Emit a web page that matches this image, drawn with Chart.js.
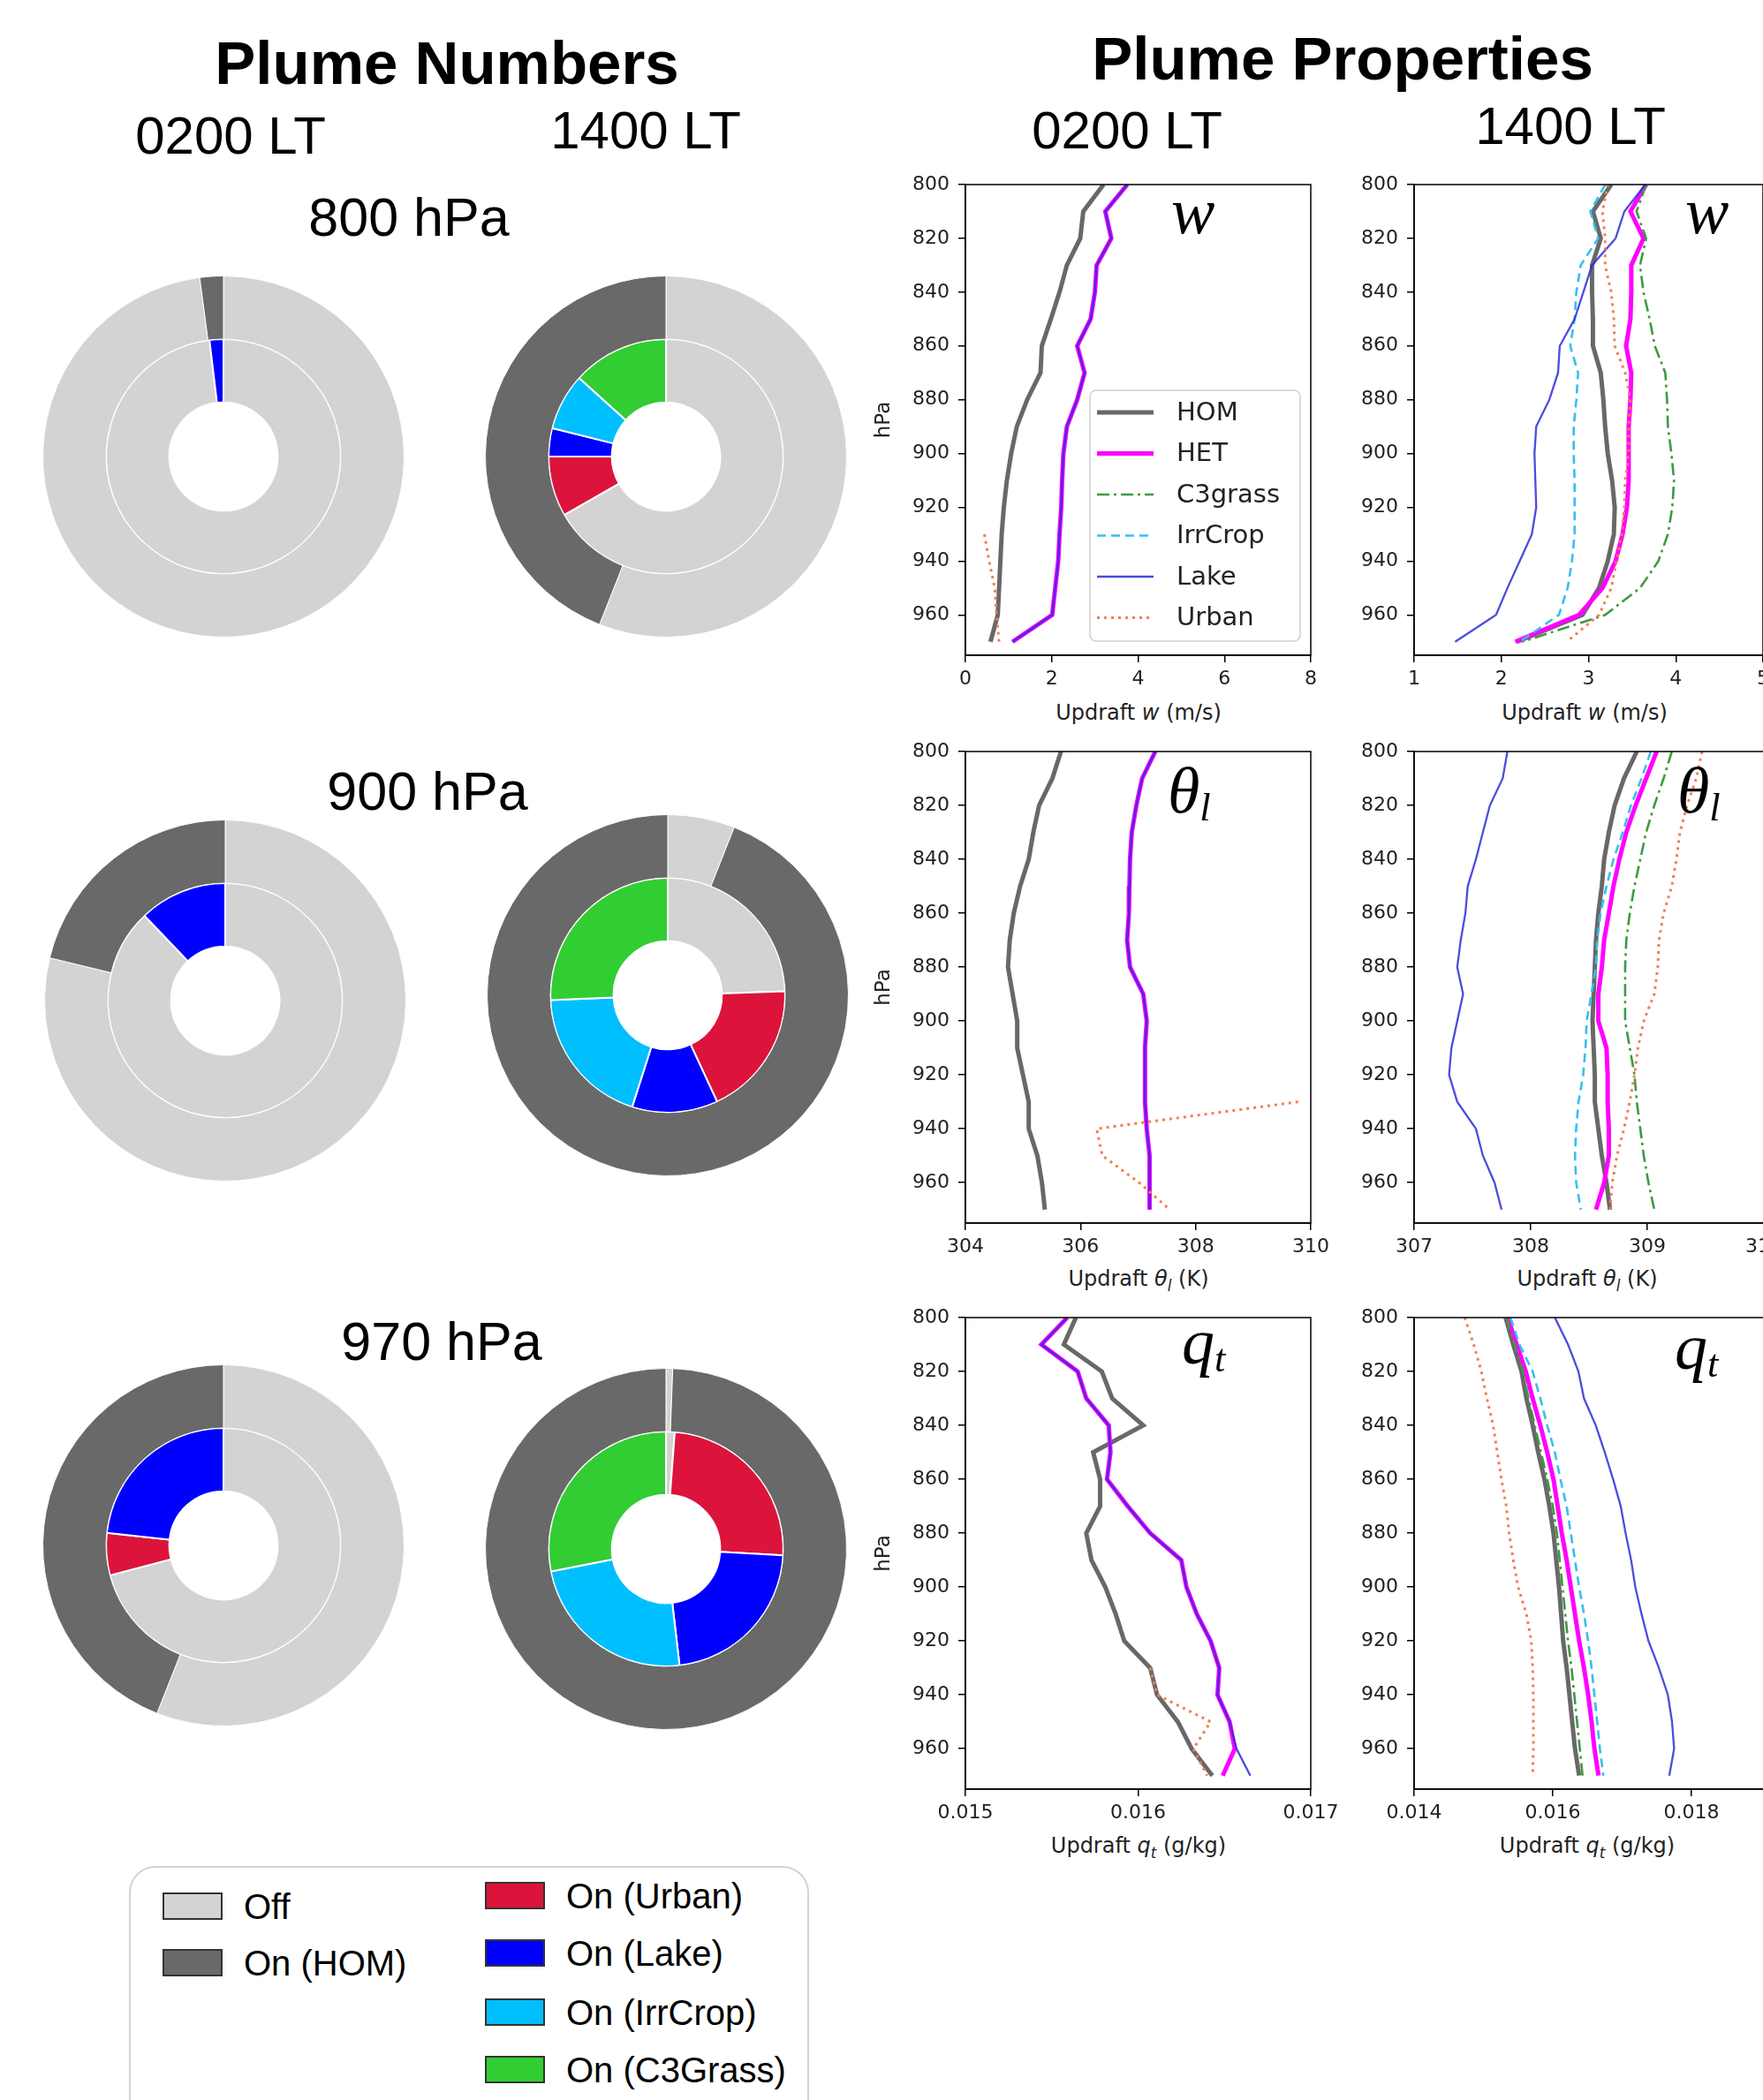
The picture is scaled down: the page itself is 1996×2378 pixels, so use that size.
<!DOCTYPE html>
<html>
<head>
<meta charset="utf-8">
<script src="https://cdn.jsdelivr.net/npm/chart.js@4.4.0/dist/chart.umd.min.js"></script>
<style>
body{margin:0;width:1996px;height:2378px;overflow:hidden;background:#fff;position:relative;font-family:"Liberation Sans",Arial,sans-serif;}
canvas{position:absolute;}
.t{position:absolute;white-space:nowrap;line-height:1;color:#000;}
.ax{position:absolute;white-space:nowrap;line-height:1;color:#222;font-family:"DejaVu Sans",sans-serif;font-size:24px;transform:translateX(-50%);}
.ann{position:absolute;white-space:nowrap;line-height:1;color:#000;font-family:"Liberation Serif",serif;font-style:italic;font-size:74px;}
.ann sub{font-size:0.6em;vertical-align:-0.2em;}
.ax sub{font-size:0.7em;}
#legend{position:absolute;left:146px;top:2113px;width:766px;height:300px;border:2px solid #d2d2d2;border-radius:30px;}
.sw{position:absolute;width:64px;height:27px;border:2px solid #333;}
</style>
</head>
<body>
<div id="legend"></div>

<canvas id="d1" width="410" height="410"></canvas>
<canvas id="d2" width="410" height="410"></canvas>
<canvas id="d3" width="410" height="410"></canvas>
<canvas id="d4" width="410" height="410"></canvas>
<canvas id="d5" width="410" height="410"></canvas>
<canvas id="d6" width="410" height="410"></canvas>

<canvas id="pA"></canvas>
<canvas id="pB"></canvas>
<canvas id="pC"></canvas>
<canvas id="pD"></canvas>
<canvas id="pE"></canvas>
<canvas id="pF"></canvas>

<script>
// ---- plume numbers (fractions), outer ring = [Off, On(HOM)], inner = [Off, Urban, Lake, IrrCrop, C3Grass]
var ringOuterLabels = ['Off', 'On (HOM)'];
var ringInnerLabels = ['Off', 'On (Urban)', 'On (Lake)', 'On (IrrCrop)', 'On (C3Grass)'];

var outer800Night = [0.979, 0.021];
var inner800Night = [0.981, 0, 0.019, 0, 0];
var outer800Day   = [0.56, 0.44];
var inner800Day   = [0.667, 0.083, 0.039, 0.078, 0.133];
var outer900Night = [0.788, 0.212];
var inner900Night = [0.879, 0, 0.121, 0, 0];
var outer900Day   = [0.06, 0.94];
var inner900Day   = [0.244, 0.186, 0.118, 0.194, 0.256];
var outer970Night = [0.56, 0.44];
var inner970Night = [0.709, 0.058, 0.233, 0, 0];
var outer970Day   = [0.006, 0.994];
var inner970Day   = [0.012, 0.247, 0.223, 0.238, 0.281];

// ---- plume properties, pressure levels (hPa)
var levels = [800,810,820,830,840,850,860,870,880,890,900,910,920,930,940,950,960,970];
var yTicks = [800,820,840,860,880,900,920,940,960];

var wNightHom   = [3.2,2.73,2.66,2.35,2.18,1.98,1.77,1.74,1.43,1.19,1.06,0.96,0.89,0.84,0.81,0.78,0.75,0.58];
var wNightHet   = [3.75,3.24,3.38,3.04,3.00,2.90,2.59,2.76,2.59,2.35,2.27,2.24,2.22,2.18,2.15,2.08,2.01,1.09];
var wNightLake  = [3.75,3.24,3.38,3.04,3.00,2.90,2.59,2.76,2.59,2.35,2.27,2.24,2.22,2.18,2.15,2.08,2.01,1.09];
var wNightUrban = [null,null,null,null,null,null,null,null,null,null,null,null,null,0.44,0.55,0.68,0.72,0.78];

var wDayHom   = [3.26,3.05,3.14,3.04,3.04,3.05,3.05,3.14,3.17,3.19,3.22,3.27,3.30,3.29,3.22,3.12,2.93,2.18];
var wDayHet   = [3.66,3.48,3.63,3.49,3.49,3.48,3.43,3.49,3.48,3.46,3.46,3.46,3.44,3.39,3.31,3.16,2.89,2.16];
var wDayC3    = [3.66,3.55,3.66,3.59,3.63,3.70,3.76,3.88,3.90,3.91,3.95,3.98,3.96,3.91,3.80,3.59,3.19,2.24];
var wDayIrr   = [3.19,3.02,3.11,2.91,2.86,2.84,2.79,2.88,2.86,2.83,2.83,2.84,2.84,2.84,2.81,2.76,2.66,2.21];
var wDayLake  = [3.65,3.41,3.31,3.04,2.94,2.84,2.67,2.65,2.55,2.40,2.38,2.39,2.40,2.35,2.21,2.07,1.94,1.47];
var wDayUrban = [3.22,3.16,3.19,3.19,3.26,3.29,3.30,3.42,3.48,3.46,3.46,3.42,3.41,3.38,3.32,3.26,3.12,2.75];

var thNightHom   = [305.66,305.51,305.28,305.18,305.10,304.95,304.84,304.77,304.74,304.82,304.90,304.90,305.00,305.10,305.10,305.25,305.33,305.38];
var thNightHet   = [307.30,307.07,306.97,306.89,306.86,306.85,306.84,306.81,306.86,307.09,307.15,307.12,307.12,307.12,307.15,307.20,307.20,307.20];
var thNightLake  = [307.30,307.07,306.97,306.89,306.86,306.85,306.84,306.81,306.86,307.09,307.15,307.12,307.12,307.12,307.15,307.20,307.20,307.20];
var thNightUrban = [null,null,null,null,null,null,null,null,null,null,null,null,null,309.78,306.28,306.38,307.02,307.55];

var thDayHom   = [308.91,308.80,308.72,308.67,308.63,308.61,308.58,308.56,308.55,308.54,308.53,308.54,308.55,308.55,308.58,308.61,308.65,308.68];
var thDayHet   = [309.08,308.99,308.90,308.82,308.76,308.71,308.67,308.63,308.61,308.58,308.58,308.65,308.66,308.66,308.67,308.67,308.63,308.56];
var thDayC3    = [309.21,309.14,309.06,308.99,308.94,308.89,308.85,308.82,308.81,308.81,308.81,308.85,308.89,308.91,308.94,308.97,309.01,309.06];
var thDayIrr   = [309.03,308.95,308.86,308.79,308.71,308.65,308.60,308.57,308.56,308.52,308.48,308.47,308.45,308.41,308.39,308.38,308.39,308.43];
var thDayLake  = [307.80,307.76,307.65,307.59,307.53,307.46,307.44,307.40,307.37,307.42,307.37,307.32,307.30,307.37,307.53,307.59,307.69,307.75];
var thDayUrban = [309.47,309.42,309.34,309.28,309.25,309.21,309.14,309.10,309.09,309.06,308.97,308.92,308.89,308.85,308.80,308.74,308.70,308.68];

var qtNightHom   = [0.01564,0.01557,0.01579,0.01585,0.01603,0.01574,0.01578,0.01578,0.01570,0.01573,0.01581,0.01587,0.01592,0.01607,0.01611,0.01623,0.01631,0.01643];
var qtNightHet   = [0.01559,0.01544,0.01565,0.01570,0.01583,0.01584,0.01582,0.01594,0.01607,0.01625,0.01628,0.01634,0.01642,0.01647,0.01646,0.01653,0.01656,0.01649];
var qtNightLake  = [0.01559,0.01544,0.01565,0.01570,0.01583,0.01584,0.01582,0.01594,0.01607,0.01625,0.01628,0.01634,0.01642,0.01647,0.01646,0.01653,0.01657,0.01665];
var qtNightUrban = [null,null,null,null,null,null,null,null,null,null,null,null,null,0.01607,0.01611,0.01642,0.01632,0.01640];

var qtDayHom   = [0.01532,0.01543,0.01555,0.01562,0.01571,0.01579,0.01588,0.01595,0.01601,0.01605,0.01609,0.01612,0.01615,0.01620,0.01624,0.01628,0.01632,0.01638];
var qtDayHet   = [0.01535,0.01548,0.01561,0.01571,0.01582,0.01592,0.01601,0.01607,0.01613,0.01620,0.01626,0.01632,0.01638,0.01645,0.01651,0.01656,0.01660,0.01666];
var qtDayC3    = [0.01533,0.01545,0.01557,0.01565,0.01574,0.01583,0.01592,0.01600,0.01606,0.01610,0.01614,0.01618,0.01622,0.01627,0.01631,0.01635,0.01639,0.01643];
var qtDayIrr   = [0.01539,0.01552,0.01571,0.01582,0.01592,0.01603,0.01611,0.01620,0.01626,0.01632,0.01638,0.01645,0.01651,0.01656,0.01660,0.01664,0.01668,0.01673];
var qtDayLake  = [0.01603,0.01622,0.01637,0.01645,0.01662,0.01675,0.01687,0.01698,0.01705,0.01713,0.01719,0.01728,0.01738,0.01753,0.01766,0.01772,0.01775,0.01768];
var qtDayUrban = [0.01473,0.01486,0.01497,0.01505,0.01514,0.01520,0.01526,0.01533,0.01537,0.01543,0.01550,0.01562,0.01569,0.01571,0.01572,0.01572,0.01572,0.01571];

var wTicksNight = [0,2,4,6,8];
var wTicksDay = [1,2,3,4,5];
var thTicksNight = [304,306,308,310];
var thTicksDay = [307,308,309,310];
var qtTicksNight = [0.015,0.016,0.017];
var qtTicksDay = [0.014,0.016,0.018,0.020];

// ---- colours / styles
var offColor = '#d3d3d3', homColor = '#696969', urbanColor = '#dc143c',
    lakeColor = '#0000ff', irrColor = '#00bfff', c3Color = '#32cd32';

var seriesNames = ['HOM','HET','C3grass','IrrCrop','Lake','Urban'];
var lineStyle = {
  HOM:     {color:'#686868', width:5, dash:[]},
  HET:     {color:'#ff00ff', width:5, dash:[]},
  C3grass: {color:'#3f9a3f', width:2.6, dash:[14,5,3,5]},
  IrrCrop: {color:'#35c0ee', width:2.6, dash:[10,6]},
  Lake:    {color:'rgba(45,45,215,0.85)', width:2.3, dash:[]},
  Urban:   {color:'#f47e52', width:3, dash:[3,5]}
};

Chart.defaults.font.family = 'DejaVu Sans';
Chart.defaults.color = '#222';

function place(html, left, top, cls, style){
  var d = document.createElement('div');
  d.className = cls;
  d.innerHTML = html;
  d.style.left = left + 'px';
  d.style.top = top + 'px';
  if (style) d.style.cssText += style;
  document.body.appendChild(d);
  return d;
}
function heading(text, cx, cy, size, bold){
  place(text, cx, cy - 0.488*size, 't', 'font-size:' + size + 'px;transform:translateX(-50%);' + (bold ? 'font-weight:bold;' : ''));
}

heading('Plume Numbers', 506, 71, 69, true);
heading('Plume Properties', 1520, 66, 69, true);
heading('0200 LT', 261, 153, 60);
heading('1400 LT', 731, 147, 60);
heading('0200 LT', 1276, 147, 60);
heading('1400 LT', 1778, 142, 60);
heading('800 hPa', 463, 246, 61);
heading('900 hPa', 484, 896, 61);
heading('970 hPa', 500, 1519, 61);

// ---- doughnuts
function ringChart(id, cx, cy, outer, inner){
  var cv = document.getElementById(id);
  cv.style.left = (cx - 205) + 'px';
  cv.style.top = (cy - 205) + 'px';
  new Chart(cv, {
    type: 'doughnut',
    data: {
      labels: ringInnerLabels,
      datasets: [
        {data: outer, backgroundColor: [offColor, homColor], borderColor: '#fff', borderWidth: 1},
        {data: inner, backgroundColor: [offColor, urbanColor, lakeColor, irrColor, c3Color], borderColor: '#fff', borderWidth: 2}
      ]
    },
    options: {
      responsive: false, animation: false, events: [],
      cutout: '30%', rotation: 0,
      layout: {padding: 0},
      plugins: {legend: {display: false}, tooltip: {enabled: false}}
    }
  });
}
ringChart('d1', 253, 517, outer800Night, inner800Night);
ringChart('d2', 754, 517, outer800Day, inner800Day);
ringChart('d3', 255, 1133, outer900Night, inner900Night);
ringChart('d4', 756, 1127, outer900Day, inner900Day);
ringChart('d5', 253, 1750, outer970Night, inner970Night);
ringChart('d6', 754, 1754, outer970Day, inner970Day);

// ---- legend for the doughnuts
var lg = document.getElementById('legend');
var legendItems = [
  [offColor, 'Off', 36, 29], [homColor, 'On (HOM)', 36, 93],
  [urbanColor, 'On (Urban)', 401, 17], [lakeColor, 'On (Lake)', 401, 82],
  [irrColor, 'On (IrrCrop)', 401, 149], [c3Color, 'On (C3Grass)', 401, 214]
];
for (var i = 0; i < legendItems.length; i++){
  var it = legendItems[i];
  var sw = document.createElement('div');
  sw.className = 'sw';
  sw.style.background = it[0];
  sw.style.left = it[2] + 'px';
  sw.style.top = (it[3] + 14 - 15) + 'px';
  lg.appendChild(sw);
  var tx = document.createElement('div');
  tx.className = 't';
  tx.style.fontSize = '40px';
  tx.style.left = (it[2] + 92) + 'px';
  tx.style.top = (it[3] + 14 - 19.5) + 'px';
  tx.textContent = it[1];
  lg.appendChild(tx);
}

// ---- profile charts
function pts(vals){
  var out = [];
  for (var i = 0; i < levels.length; i++){
    if (vals[i] !== null) out.push({x: vals[i], y: levels[i]});
  }
  return out;
}

var framePlugin = {
  id: 'frame',
  afterDraw: function(chart){
    var a = chart.chartArea, c = chart.ctx;
    c.save();
    c.strokeStyle = '#000';
    c.lineWidth = 1.5;
    c.strokeRect(a.left, a.top, a.right - a.left, a.bottom - a.top);
    c.restore();
  }
};

var insideLegend = {
  id: 'insideLegend',
  afterDraw: function(chart){
    var a = chart.chartArea, c = chart.ctx;
    var bx = a.right - 250, by = a.bottom - 300, bw = 238, bh = 284;
    c.save();
    c.fillStyle = 'rgba(255,255,255,0.85)';
    c.strokeStyle = '#d0d0d0';
    c.lineWidth = 1.5;
    c.beginPath();
    c.roundRect(bx, by, bw, bh, 7);
    c.fill();
    c.stroke();
    c.font = '29px "DejaVu Sans"';
    c.textBaseline = 'middle';
    for (var i = 0; i < seriesNames.length; i++){
      var s = lineStyle[seriesNames[i]];
      var y = by + 25 + i*46.5;
      c.strokeStyle = s.color;
      c.lineWidth = s.width;
      c.setLineDash(s.dash);
      c.beginPath();
      c.moveTo(bx + 8, y);
      c.lineTo(bx + 72, y);
      c.stroke();
      c.setLineDash([]);
      c.fillStyle = '#222';
      c.fillText(seriesNames[i], bx + 98, y + 1);
    }
    c.restore();
  }
};

function profileChart(id, box, xr, xTicks, series, opt){
  var yW = opt.left ? 108 : 70;
  var padTop = 16, padRight = 30, xH = 40;
  var cv = document.getElementById(id);
  var w = yW + (box.R - box.L) + padRight;
  var h = padTop + (box.B - box.T) + xH;
  cv.width = w; cv.height = h;
  cv.style.left = (box.L - yW) + 'px';
  cv.style.top = (box.T - padTop) + 'px';

  var datasets = [];
  for (var i = 0; i < series.length; i++){
    var s = lineStyle[series[i][0]];
    datasets.push({
      label: series[i][0],
      data: pts(series[i][1]),
      borderColor: s.color,
      borderWidth: s.width,
      borderDash: s.dash,
      pointRadius: 0,
      tension: 0,
      fill: false,
      order: -seriesNames.indexOf(series[i][0])
    });
  }
  var plugins = [framePlugin];
  if (opt.legend) plugins.push(insideLegend);

  new Chart(cv, {
    type: 'line',
    data: {datasets: datasets},
    plugins: plugins,
    options: {
      responsive: false, animation: false, events: [],
      layout: {padding: {top: padTop, right: padRight, left: 0, bottom: 0}},
      plugins: {legend: {display: false}, tooltip: {enabled: false}},
      scales: {
        x: {
          type: 'linear', position: 'bottom', min: xr[0], max: xr[1],
          afterBuildTicks: function(ax){ ax.ticks = xTicks.map(function(v){ return {value: v}; }); },
          afterFit: function(ax){ ax.height = xH; ax.paddingLeft = 0; ax.paddingRight = 0; },
          grid: {drawOnChartArea: false, drawTicks: true, tickLength: 8, color: '#000', lineWidth: 1.5},
          border: {display: true, color: '#000', width: 1.5},
          ticks: {padding: 6, maxRotation: 0, font: {size: 22}, color: '#222',
            callback: function(v){ return opt.fmt ? v.toFixed(3) : String(v); }}
        },
        y: {
          type: 'linear', position: 'left', reverse: true, min: 800, max: 975,
          afterBuildTicks: function(ax){ ax.ticks = yTicks.map(function(v){ return {value: v}; }); },
          afterFit: function(ax){ ax.width = yW; ax.paddingTop = 0; ax.paddingBottom = 0; },
          grid: {drawOnChartArea: false, drawTicks: true, tickLength: 8, color: '#000', lineWidth: 1.5},
          border: {display: true, color: '#000', width: 1.5},
          ticks: {padding: 10, font: {size: 22}, color: '#222'},
          title: {display: !!opt.left, text: 'hPa', font: {size: 23}, color: '#222', padding: {top: 2, bottom: 2}}
        }
      }
    }
  });
}

var boxA = {L:1093, R:1484, T:209, B:742};
var boxB = {L:1601, R:1996, T:209, B:742};
var boxC = {L:1093, R:1484, T:851, B:1385};
var boxD = {L:1601, R:1997, T:851, B:1385};
var boxE = {L:1093, R:1484, T:1492, B:2026};
var boxF = {L:1601, R:2072, T:1492, B:2026};

profileChart('pA', boxA, [0, 8], wTicksNight,
  [['HOM', wNightHom], ['HET', wNightHet], ['Lake', wNightLake], ['Urban', wNightUrban]],
  {left: true, legend: true});
profileChart('pB', boxB, [1, 5], wTicksDay,
  [['HOM', wDayHom], ['HET', wDayHet], ['C3grass', wDayC3], ['IrrCrop', wDayIrr], ['Lake', wDayLake], ['Urban', wDayUrban]],
  {});
profileChart('pC', boxC, [304, 310], thTicksNight,
  [['HOM', thNightHom], ['HET', thNightHet], ['Lake', thNightLake], ['Urban', thNightUrban]],
  {left: true});
profileChart('pD', boxD, [307, 310], thTicksDay,
  [['HOM', thDayHom], ['HET', thDayHet], ['C3grass', thDayC3], ['IrrCrop', thDayIrr], ['Lake', thDayLake], ['Urban', thDayUrban]],
  {});
profileChart('pE', boxE, [0.015, 0.017], qtTicksNight,
  [['HOM', qtNightHom], ['HET', qtNightHet], ['Lake', qtNightLake], ['Urban', qtNightUrban]],
  {left: true, fmt: true});
profileChart('pF', boxF, [0.014, 0.020], qtTicksDay,
  [['HOM', qtDayHom], ['HET', qtDayHet], ['C3grass', qtDayC3], ['IrrCrop', qtDayIrr], ['Lake', qtDayLake], ['Urban', qtDayUrban]],
  {fmt: true});

// ---- axis titles and panel symbols
place('Updraft <i>w</i> (m/s)', 1289, 807 - 11.6, 'ax');
place('Updraft <i>w</i> (m/s)', 1794, 807 - 11.6, 'ax');
place('Updraft <i>&theta;<sub>l</sub></i> (K)', 1289, 1448 - 11.6, 'ax');
place('Updraft <i>&theta;<sub>l</sub></i> (K)', 1797, 1448 - 11.6, 'ax');
place('Updraft <i>q<sub>t</sub></i> (g/kg)', 1289, 2090 - 11.6, 'ax');
place('Updraft <i>q<sub>t</sub></i> (g/kg)', 1797, 2090 - 11.6, 'ax');

place('w', 1326, 202, 'ann');
place('w', 1908, 202, 'ann');
place('&theta;<sub>l</sub>', 1322, 858, 'ann');
place('&theta;<sub>l</sub>', 1899, 858, 'ann');
place('q<sub>t</sub>', 1338, 1482, 'ann');
place('q<sub>t</sub>', 1896, 1488, 'ann');
</script>
</body>
</html>
